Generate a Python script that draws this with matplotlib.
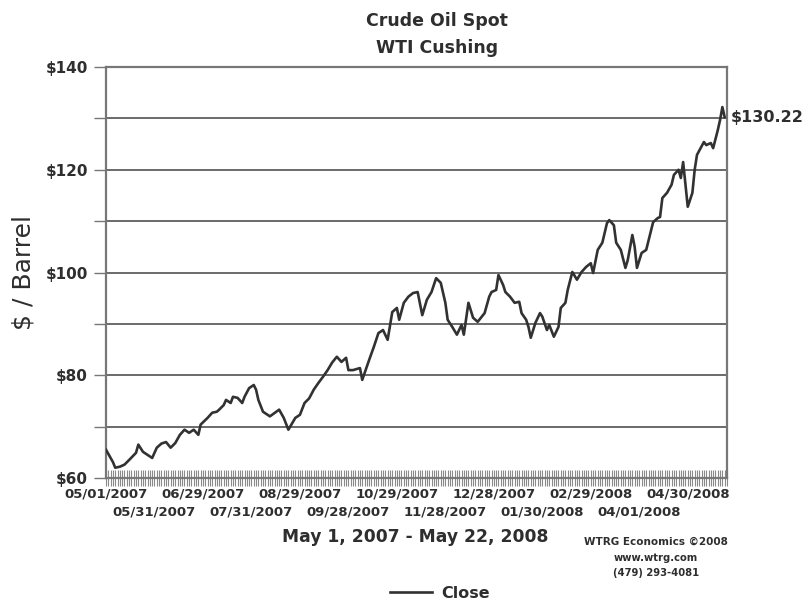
import numpy as np
import matplotlib
matplotlib.use("Agg")
import matplotlib.pyplot as plt
from matplotlib.ticker import MultipleLocator, FuncFormatter
from matplotlib.font_manager import FontProperties

# trading-session number counted from 05/01/2007 (session 0) to 05/22/2008 (session 268)
session = [0, 3, 4, 6, 8, 10, 13, 14, 16, 18, 20, 22, 24, 26, 28, 30, 32, 34, 36, 38,
           40, 41, 44, 46, 48, 49, 51, 52, 54, 55, 57, 59, 60, 62, 64, 65, 66, 68, 71, 75,
           77, 79, 82, 84, 86, 88, 90, 92, 94, 96, 98, 100, 102, 104, 105, 107, 110, 111, 114, 116,
           118, 120, 122, 124, 126, 127, 129, 131, 133, 135, 137, 139, 141, 143, 145, 147, 148, 150, 152, 154,
           155, 157, 159, 161, 164, 166, 167, 169, 170, 172, 173, 175, 177, 179, 180, 182, 183, 184, 186, 188,
           189, 191, 192, 194, 196, 197, 199, 200, 202, 204, 206, 208, 210, 211, 213, 215, 217, 218, 220, 221,
           223, 225, 226, 228, 229, 230, 232, 234, 237, 239, 240, 241, 243, 245, 246, 248, 249, 250, 251, 252,
           254, 255, 256, 259, 260, 262, 263, 265, 266, 267, 268]
close = [65.5, 63.1, 62.0, 62.2, 62.6, 63.5, 64.9, 66.5, 65.1, 64.5, 63.9, 65.9, 66.7, 67.0, 65.9, 66.8, 68.4, 69.4, 68.8, 69.4,
         68.4, 70.4, 71.7, 72.7, 72.9, 73.3, 74.2, 75.2, 74.6, 75.8, 75.6, 74.6, 75.8, 77.5, 78.1, 77.2, 75.2, 72.9, 72.0, 73.3,
         71.7, 69.4, 71.7, 72.3, 74.6, 75.5, 77.2, 78.5, 79.7, 81.0, 82.5, 83.6, 82.6, 83.4, 81.0, 81.0, 81.4, 79.1, 83.0, 85.5,
         88.2, 88.8, 86.9, 92.3, 93.1, 90.8, 94.1, 95.3, 96.0, 96.2, 91.7, 94.7, 96.2, 98.9, 98.0, 94.1, 90.8, 89.4, 87.9, 89.8,
         87.9, 94.1, 91.2, 90.4, 92.1, 95.3, 96.2, 96.6, 99.5, 97.6, 96.2, 95.3, 94.1, 94.3, 92.1, 90.8, 89.4, 87.3, 90.2, 92.1,
         91.4, 88.8, 89.8, 87.5, 89.4, 93.1, 94.1, 96.6, 100.1, 98.6, 100.1, 101.1, 101.8, 99.9, 104.4, 105.8, 109.6, 110.2, 109.2, 105.8,
         104.4, 100.9, 102.4, 107.3, 105.0, 100.9, 103.8, 104.4, 109.8, 110.6, 110.8, 114.5, 115.5, 117.1, 119.0, 120.0, 118.4, 121.5, 117.1, 112.8,
         115.5, 120.0, 122.9, 125.4, 124.8, 125.2, 124.2, 127.7, 129.7, 132.2, 130.22]

tick_labels = ["05/01/2007", "05/31/2007", "06/29/2007", "07/31/2007", "08/29/2007",
               "09/28/2007", "10/29/2007", "11/28/2007", "12/28/2007", "01/30/2008",
               "02/29/2008", "04/01/2008", "04/30/2008"]
tick_step = 21
n_sessions = 269

BOLD = dict(family="DejaVu Sans", weight="bold")
INK = "#2e2e2e"
TICKFONT = FontProperties(family="DejaVu Sans", weight="bold", size=9.5)

fig = plt.figure(figsize=(8.12, 6.04), dpi=100)
ax = fig.add_axes([106 / 812, 1 - 478 / 604, (727 - 106) / 812, (478 - 67) / 604])

ax.plot(session, close, color="#323232", lw=1.9, solid_joinstyle="round", label="Close", zorder=3)

ax.set_xlim(0, n_sessions)
ax.set_ylim(60, 140)

ax.yaxis.set_major_locator(MultipleLocator(20))
ax.yaxis.set_minor_locator(MultipleLocator(10))
ax.yaxis.set_major_formatter(FuncFormatter(lambda v, p: f"${v:.0f}"))
ax.grid(axis="y", which="both", color="#6a6a6a", lw=1.4)
ax.set_axisbelow(True)

positions = [k * tick_step for k in range(len(tick_labels))]
# first row of staggered date labels on the main axis
ax.set_xticks(positions[0::2])
ax.set_xticklabels(tick_labels[0::2])
ax.xaxis.set_minor_locator(MultipleLocator(1))
ax.tick_params(axis="x", which="both", direction="inout", length=11, width=0.8,
               color="#8a8a8a", pad=1)
ax.tick_params(axis="y", which="both", direction="out", length=9, width=1.0, color="#777777", pad=4)

# second row of staggered date labels
sec = ax.secondary_xaxis("bottom")
sec.set_xticks(positions[1::2])
sec.set_xticklabels(tick_labels[1::2])
sec.tick_params(axis="x", length=0, pad=20)
sec.spines["bottom"].set_visible(False)

for axis_obj in (ax.xaxis, sec.xaxis):
    for t in axis_obj.get_ticklabels():
        t.set_fontproperties(TICKFONT)
        t.set_color(INK)
for t in ax.get_yticklabels():
    t.set_fontproperties(FontProperties(family="DejaVu Sans", weight="bold", size=11))
    t.set_color(INK)

for s in ax.spines.values():
    s.set_color("#777777")
    s.set_linewidth(1.6)

fig.text(437 / 812, 1 - 21 / 604, "Crude Oil Spot", ha="center", va="center", fontsize=12.5, color=INK, **BOLD)
fig.text(437 / 812, 1 - 48 / 604, "WTI Cushing", ha="center", va="center", fontsize=12.5, color=INK, **BOLD)

fig.text(24 / 812, 1 - 272 / 604, "$ / Barrel", rotation=90, ha="center", va="center",
         fontsize=18, color=INK, family="DejaVu Sans")

fig.text(415 / 812, 1 - 537 / 604, "May 1, 2007 - May 22, 2008", ha="center", va="center",
         fontsize=12.3, color=INK, **BOLD)

fig.text(656 / 812, 1 - 542 / 604, "WTRG Economics \u00a92008", ha="center", va="center", fontsize=7.5, color=INK, **BOLD)
fig.text(656 / 812, 1 - 558 / 604, "www.wtrg.com", ha="center", va="center", fontsize=7.2, color=INK, **BOLD)
fig.text(656 / 812, 1 - 573 / 604, "(479) 293-4081", ha="center", va="center", fontsize=7.2, color=INK, **BOLD)

ax.annotate(f"${close[-1]:.2f}", xy=(1.0, close[-1]), xycoords=("axes fraction", "data"),
            xytext=(3, 0), textcoords="offset points", ha="left", va="center",
            fontsize=11.5, color=INK, **BOLD, annotation_clip=False)

leg = fig.legend(loc="center", bbox_to_anchor=(440 / 812, 1 - 593 / 604), frameon=False,
                 handlelength=2.6, handletextpad=0.6, borderaxespad=0, borderpad=0,
                 prop=dict(family="DejaVu Sans", weight="bold", size=11.5))
for t in leg.get_texts():
    t.set_color(INK)

fig.savefig("out.png", dpi=100)
